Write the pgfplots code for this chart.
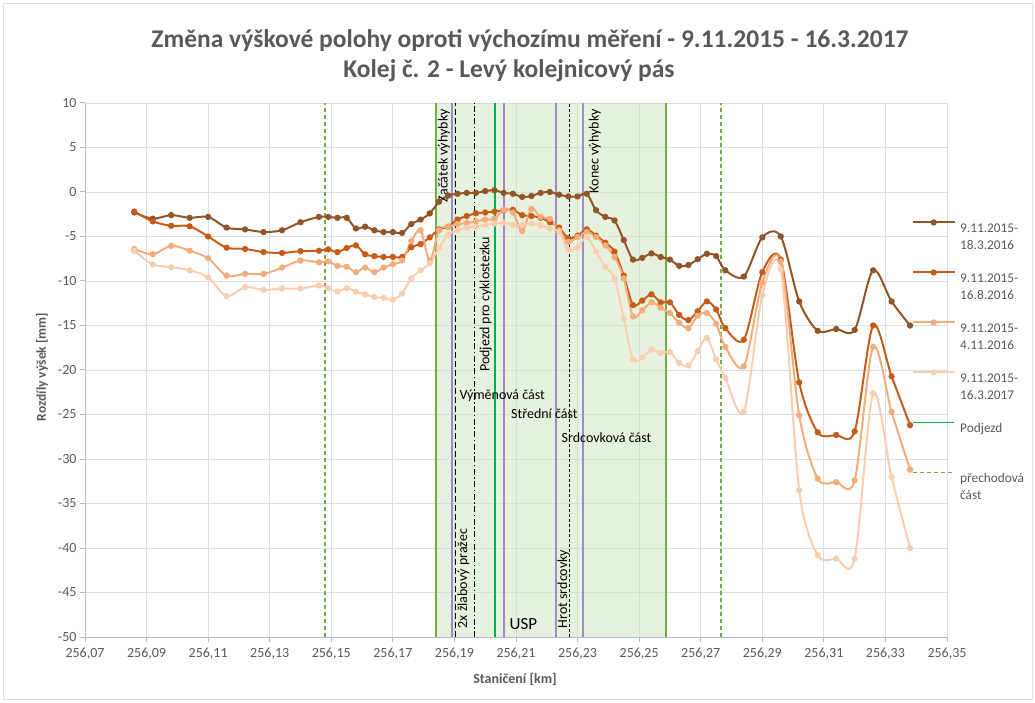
\documentclass[border=0pt]{standalone}
\usepackage{fontspec}
\setmainfont{Carlito}
\usepackage{pgfplots}
\usepackage{pgfplotstable}
\pgfplotsset{compat=1.18}
\definecolor{sA}{RGB}{145,85,40}
\definecolor{sB}{RGB}{197,92,25}
\definecolor{sC}{RGB}{244,172,122}
\definecolor{sD}{RGB}{249,205,176}
\definecolor{gridc}{RGB}{217,222,232}
\definecolor{axc}{RGB}{176,184,210}
\definecolor{txt}{RGB}{89,89,89}
\definecolor{lgreen}{RGB}{112,173,71}
\definecolor{bgreen}{RGB}{0,176,80}
\definecolor{purp}{RGB}{158,138,198}
\definecolor{fillg}{RGB}{205,228,190}

\pgfplotstableread{
x a b c d
86 -2.3 -2.2 -6.4 -6.6
92 -3.0 -3.3 -7.0 -8.15
98 -2.6 -3.8 -6.05 -8.45
104 -2.9 -3.85 -6.6 -8.8
110 -2.8 -5.0 -7.45 -9.6
116 -4.0 -6.25 -9.4 -11.7
122 -4.2 -6.4 -9.2 -10.7
128 -4.5 -6.75 -9.2 -11.0
134 -4.3 -6.85 -8.5 -10.85
140 -3.4 -6.65 -7.7 -10.85
146 -2.8 -6.6 -7.9 -10.5
149 -2.8 -6.45 -7.8 -10.8
152 -2.9 -6.75 -8.3 -11.2
155 -2.9 -6.3 -8.4 -10.8
158 -4.1 -6.0 -9.0 -11.2
161 -3.9 -7.0 -8.5 -11.5
164 -4.3 -7.2 -9.0 -11.8
167 -4.5 -7.3 -8.5 -11.9
170 -4.5 -7.3 -8.1 -12.1
173 -4.6 -7.3 -7.7 -11.4
176 -3.6 -6.2 -5.5 -9.7
179 -3.1 -5.85 -4.3 -8.8
182 -2.4 -5.1 -7.7 -8.0
185 -1.1 -4.2 -4.3 -6.3
188 -0.4 -3.9 -3.9 -4.8
191 -0.2 -3.1 -3.6 -4.3
194 -0.1 -2.7 -3.5 -4.0
197 -0.1 -2.4 -3.3 -3.9
200 0.1 -2.3 -3.1 -3.7
203 0.2 -2.2 -3.0 -3.55
206 -0.1 -2.05 -2.0 -3.45
209 -0.2 -2.0 -2.3 -3.7
212 -0.55 -2.6 -4.4 -3.7
215 -0.45 -2.7 -1.9 -3.55
218 -0.1 -2.9 -2.8 -3.75
221 0.0 -3.4 -3.0 -4.1
224 -0.3 -4.0 -4.3 -4.5
227 -0.5 -5.2 -5.6 -6.5
230 -0.5 -4.9 -5.05 -6.2
233 -0.2 -4.2 -4.5 -5.05
236 -2.05 -4.9 -5.05 -6.7
239 -2.8 -5.7 -6.0 -8.4
242 -3.2 -6.7 -7.3 -9.7
245 -5.4 -9.4 -9.7 -14.2
248 -7.6 -12.7 -14.0 -18.8
251 -7.4 -12.2 -13.3 -18.6
254 -6.9 -11.5 -12.4 -17.7
257 -7.3 -12.4 -13.0 -18.1
260 -7.6 -12.4 -13.6 -18.0
263 -8.3 -13.8 -14.7 -19.2
266 -8.2 -14.4 -15.3 -19.5
269 -7.55 -13.4 -13.9 -17.9
272 -6.95 -12.3 -13.6 -16.4
275 -7.2 -13.2 -14.8 -18.8
278 -8.8 -15.3 -17.4 -20.9
284 -9.5 -16.6 -19.6 -24.7
290 -5.1 -9.0 -10.2 -11.6
296 -5.0 -7.6 -7.8 -8.7
302 -12.3 -21.4 -25.1 -33.5
308 -15.6 -27.0 -32.2 -40.8
314 -15.4 -27.3 -32.6 -41.2
320 -15.5 -26.9 -32.4 -41.2
326 -8.8 -15.0 -17.4 -22.6
332 -12.3 -20.7 -24.7 -32.0
338 -15.0 -26.2 -31.2 -40.0
}\data

\begin{document}
\begin{tikzpicture}[x=1pt,y=1pt]
\useasboundingbox (0,0) rectangle (1035,702);
\draw[gray!25, line width=0.8pt] (3,3) rectangle (1032,699);
\node[font=\bfseries\fontsize{25.5}{30}\selectfont, text=txt] at (530,661) {Změna výškové polohy oproti výchozímu měření - 9.11.2015 - 16.3.2017};
\node[font=\bfseries\fontsize{25.5}{30}\selectfont, text=txt] at (509,631) {Kolej č. 2 - Levý kolejnicový pás};
\node[font=\bfseries\fontsize{14}{17}\selectfont, text=txt] at (515,23) {Staničení [km]};
\node[font=\bfseries\fontsize{13.5}{16}\selectfont, text=txt, rotate=90] at (42,335) {Rozdíly výšek [mm]};
\begin{axis}[
  at={(85pt,65pt)}, anchor=south west,
  width=862pt, height=534pt, scale only axis,
  xmin=70, xmax=350, ymin=-50, ymax=10,
  xtick={70,90,...,350},
  xticklabels={{256,07},{256,09},{256,11},{256,13},{256,15},{256,17},{256,19},{256,21},{256,23},{256,25},{256,27},{256,29},{256,31},{256,33},{256,35}},
  ytick={-50,-45,...,10},
  yticklabels={-50,-45,-40,-35,-30,-25,-20,-15,-10,-5,0,5,10},
  grid=major, major grid style={gridc, line width=0.9pt},
  axis x line*=bottom, axis y line*=left,
  axis line style={axc, line width=1pt},
  tick align=outside, major tick length=5pt, tick style={axc, line width=1pt},
  ticklabel style={font=\fontsize{14}{16}\selectfont, text=txt},
  xticklabel style={yshift=-3pt},
  legend cell align=left,
  legend style={at={(0.9594,0.8074)}, anchor=north west, draw=none, fill=none,
    inner sep=0pt, row sep=0pt, column sep=5pt,
    font=\fontsize{13.3}{17.7}\selectfont, text=txt, nodes={inner sep=0pt, minimum height=50pt}},
  legend image code/.code={\draw[mark repeat=2,mark phase=2,#1] plot coordinates {(0pt,8.6pt) (20.5pt,8.6pt) (41pt,8.6pt)};},
]
% shaded switch region
\addplot[draw=none, fill=fillg, fill opacity=0.5, forget plot] coordinates {(183.9,-50) (258.6,-50) (258.6,10) (183.9,10)} \closedcycle;
% vertical lines
\addplot[lgreen, line width=1.3pt, dash pattern=on 4pt off 3pt, forget plot] coordinates {(148.0,-50) (148.0,10)};
\addplot[lgreen, line width=1.3pt, dash pattern=on 4pt off 3pt, forget plot] coordinates {(276.6,-50) (276.6,10)};
\addplot[lgreen, line width=1.8pt, forget plot] coordinates {(183.9,-50) (183.9,10)};
\addplot[lgreen, line width=1.8pt, forget plot] coordinates {(258.6,-50) (258.6,10)};
\addplot[bgreen, line width=1.8pt, forget plot] coordinates {(203.2,-50) (203.2,10)};
\addplot[purp, line width=2pt, forget plot] coordinates {(189.3,-50) (189.3,10)};
\addplot[purp, line width=2pt, forget plot] coordinates {(206.2,-50) (206.2,10)};
\addplot[purp, line width=2pt, forget plot] coordinates {(223.0,-50) (223.0,10)};
\addplot[purp, line width=2pt, forget plot] coordinates {(231.8,-50) (231.8,10)};
\addplot[black, line width=1pt, dash pattern=on 6pt off 3pt, forget plot] coordinates {(190.4,-50) (190.4,10)};
\addplot[black, line width=1pt, dash pattern=on 6pt off 2.5pt on 1.5pt off 2.5pt, forget plot] coordinates {(196.4,-50) (196.4,10)};
\addplot[black, line width=1pt, dash pattern=on 3pt off 2pt, forget plot] coordinates {(227.3,-50) (227.3,10)};
% series
\addplot[sA, line width=2pt, smooth, mark=*, mark size=2.1pt] table[x=x,y=a]{\data};
\addlegendentry{\begin{tabular}{@{}l@{}}9.11.2015-\\18.3.2016\end{tabular}}
\addplot[sB, line width=2pt, smooth, mark=*, mark size=2.1pt] table[x=x,y=b]{\data};
\addlegendentry{\begin{tabular}{@{}l@{}}9.11.2015-\\16.8.2016\end{tabular}}
\addplot[sC, line width=2pt, smooth, mark=*, mark size=2.1pt] table[x=x,y=c]{\data};
\addlegendentry{\begin{tabular}{@{}l@{}}9.11.2015-\\4.11.2016\end{tabular}}
\addplot[sD, line width=2pt, smooth, mark=*, mark size=2.1pt] table[x=x,y=d]{\data};
\addlegendentry{\begin{tabular}{@{}l@{}}9.11.2015-\\16.3.2017\end{tabular}}
\addlegendimage{bgreen, line width=1.8pt}
\addlegendentry{\begin{tabular}{@{}l@{}}Podjezd\\\mbox{}\end{tabular}}
\addlegendimage{lgreen, line width=1.3pt, dash pattern=on 4pt off 3pt}
\addlegendentry{\begin{tabular}{@{}l@{}}přechodová\\část\end{tabular}}
% annotations
\node[rotate=90, anchor=east, font=\fontsize{14}{16}\selectfont] at (axis cs:186.6,9.7) {Začátek výhybky};
\node[rotate=90, anchor=east, font=\fontsize{14}{16}\selectfont] at (axis cs:235.6,9.7) {Konec výhybky};
\node[rotate=90, anchor=west, font=\fontsize{14}{16}\selectfont] at (axis cs:200.2,-20.6) {Podjezd pro cyklostezku};
\node[rotate=90, anchor=west, font=\fontsize{14}{16}\selectfont] at (axis cs:192.9,-49.4) {2x žlabový pražec};
\node[rotate=90, anchor=west, font=\fontsize{14}{16}\selectfont] at (axis cs:225.4,-49.4) {Hrot srdcovky};
\node[anchor=west, font=\fontsize{14}{16}\selectfont] at (axis cs:190.5,-22.9) {Výměnová část};
\node[anchor=west, font=\fontsize{14}{16}\selectfont] at (axis cs:207.3,-24.9) {Střední část};
\node[anchor=west, font=\fontsize{14}{16}\selectfont] at (axis cs:223.7,-27.6) {Srdcovková část};
\node[font=\fontsize{17}{20}\selectfont] at (axis cs:212.4,-48.6) {USP};
\end{axis}
\end{tikzpicture}
\end{document}
